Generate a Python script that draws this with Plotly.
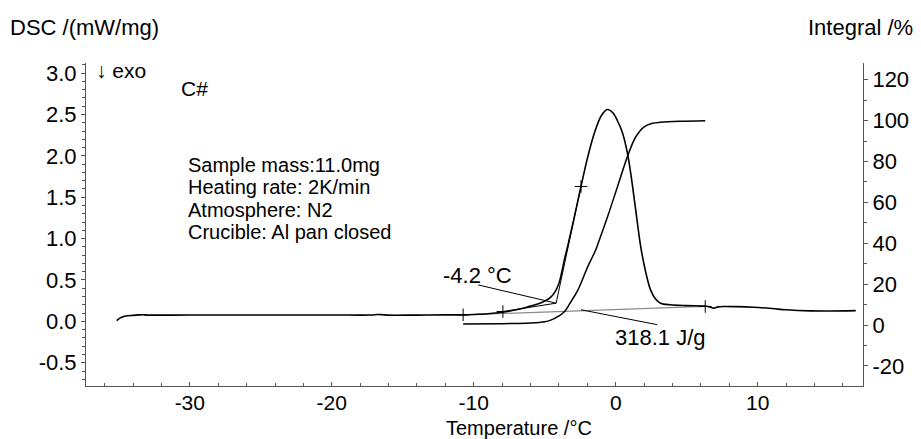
import plotly.graph_objects as go

# ---------------- data ----------------
temp_dsc = [-35.15, -35.0, -34.8, -34.5, -34.0, -33.6, -33.3, -33.0, -30.0, -25.0, -20.0,
            -17.2, -16.8, -16.4, -16.0, -14.0, -12.0, -10.75, -10.0, -9.0, -8.0, -7.0,
            -6.2, -5.5, -5.0, -4.6, -4.3, -4.0, -3.8, -3.6, -3.4, -3.0, -2.45, -2.0,
            -1.5, -1.0, -0.6, -0.2, 0.1, 0.47, 0.8, 1.05, 1.4, 1.75, 2.1, 2.45, 2.8,
            3.15, 3.85, 5.0, 6.2, 6.6, 6.9, 7.2, 7.6, 8.5, 9.7, 11.0, 12.0, 13.7, 15.0, 16.9]
dsc = [0.01, 0.03, 0.05, 0.065, 0.073, 0.078, 0.08, 0.076, 0.077, 0.077, 0.077,
       0.077, 0.083, 0.08, 0.075, 0.076, 0.078, 0.079, 0.083, 0.092, 0.11, 0.14,
       0.175, 0.21, 0.245, 0.29, 0.35, 0.46, 0.6, 0.76, 0.9, 1.2, 1.63, 1.97,
       2.28, 2.49, 2.56, 2.52, 2.43, 2.28, 2.05, 1.79, 1.35, 0.91, 0.6, 0.38, 0.27,
       0.22, 0.2, 0.19, 0.185, 0.175, 0.16, 0.175, 0.18, 0.178, 0.17, 0.155, 0.14, 0.127, 0.125, 0.13]

temp_int = [-10.75, -8.0, -6.0, -5.0, -4.58, -4.0, -3.62, -3.2, -2.68, -1.98, -1.4, -1.16,
            -0.58, 0.12, 0.82, 1.4, 2.0, 2.6, 3.15, 4.5, 6.3]
integral = [0.5, 0.7, 1.0, 1.6, 2.4, 4.5, 6.5, 11, 17, 28.5, 37, 41.6,
            53, 67.7, 82.4, 92, 97, 98.7, 99.2, 99.7, 100]

baseline_temp = [-10.75, 6.3]
baseline_dsc = [0.079, 0.18]
tangent1_temp = [-7.95, -4.2]
tangent1_dsc = [0.119, 0.22]
tangent2_temp = [-4.2, -2.45]
tangent2_dsc = [0.22, 1.63]
mark_temp = [-10.75, -7.95, -2.45, 6.3]
mark_dsc = [0.079, 0.119, 1.63, 0.18]
onset_leader_temp = [-9.69, -4.2]
onset_leader_dsc = [0.44, 0.22]
area_leader_temp = [-2.45, 2.92]
area_leader_dsc = [0.14, -0.04]

x_ticks = [-30, -20, -10, 0, 10]
x_tick_text = ["-30", "-20", "-10", "0", "10"]
y_ticks = [-0.5, 0.0, 0.5, 1.0, 1.5, 2.0, 2.5, 3.0]
y_tick_text = ["-0.5", "0.0", "0.5", "1.0", "1.5", "2.0", "2.5", "3.0"]
y2_ticks = [-20, 0, 20, 40, 60, 80, 100, 120]
y2_tick_text = ["-20", "0", "20", "40", "60", "80", "100", "120"]

info_lines = ["Sample mass:11.0mg", "Heating rate: 2K/min", "Atmosphere: N2", "Crucible: Al pan closed"]

# ---------------- figure ----------------
FONT = "Liberation Sans, Arial, sans-serif"
FS = 22
PAGE_W, PAGE_H = 921, 439
OFF = 8  # default body margin of the html page
L, R, T, B = 86, 867, 63, 386  # plot area in page pixels


def px(x):
    return (x - L) / (R - L)


def py(y):
    return (B - y) / (B - T)


fig = go.Figure()
line_k = dict(color="black", width=1.6)
thin_k = dict(color="black", width=1)

fig.add_trace(go.Scatter(x=baseline_temp, y=baseline_dsc, mode="lines",
                         line=dict(color="#8a8a8a", width=1.2), hoverinfo="skip"))
fig.add_trace(go.Scatter(x=temp_dsc, y=dsc, mode="lines", line=line_k, line_shape="spline"))
fig.add_trace(go.Scatter(x=tangent1_temp, y=tangent1_dsc, mode="lines", line=thin_k))
fig.add_trace(go.Scatter(x=tangent2_temp, y=tangent2_dsc, mode="lines", line=thin_k))
fig.add_trace(go.Scatter(x=onset_leader_temp, y=onset_leader_dsc, mode="lines", line=thin_k))
fig.add_trace(go.Scatter(x=area_leader_temp, y=area_leader_dsc, mode="lines", line=thin_k))
fig.add_trace(go.Scatter(x=mark_temp, y=mark_dsc, mode="markers",
                         marker=dict(symbol="cross-thin", size=9, line=dict(color="black", width=1))))
fig.add_trace(go.Scatter(x=temp_int, y=integral, mode="lines", yaxis="y2",
                         line=dict(color="black", width=1.5), line_shape="spline"))

axis_common = dict(showgrid=False, zeroline=False, showline=True, linecolor="#555555", linewidth=1,
                   tickcolor="#555555")

fig.update_layout(
    width=PAGE_W - OFF, height=PAGE_H - OFF,
    margin=dict(l=L - OFF, r=PAGE_W - R, t=T - OFF, b=PAGE_H - B),
    paper_bgcolor="white", plot_bgcolor="white",
    showlegend=False,
    xaxis=dict(range=[-37.31, 17.41], tickvals=x_ticks, ticktext=x_tick_text, ticks="inside", ticklen=4,
               tickfont=dict(family=FONT, size=21, color="black"), ticklabelstandoff=-2,
               minor=dict(dtick=2, ticks="inside", ticklen=3, tickcolor="#555555"),
               **axis_common),
    yaxis=dict(range=[-0.781, 3.122], tickvals=y_ticks, ticktext=y_tick_text, ticks="outside", ticklen=4,
               tickfont=dict(family=FONT, size=FS, color="black"),
               minor=dict(dtick=0.1, ticks="outside", ticklen=3, tickcolor="#555555"),
               **axis_common),
    yaxis2=dict(range=[-29.8, 128.2], tickvals=y2_ticks, ticktext=y2_tick_text, overlaying="y", side="right",
                ticks="outside", ticklen=4, tickfont=dict(family=FONT, size=FS, color="black"),
                minor=dict(dtick=10, ticks="outside", ticklen=3, tickcolor="#555555"),
                **axis_common),
)

ann = []


def text(s, x, y, xa="left", ya="middle", size=FS):
    ann.append(dict(text=s, x=px(x), y=py(y), xref="paper", yref="paper", xanchor=xa, yanchor=ya,
                    showarrow=False, font=dict(family=FONT, size=size, color="black")))


text("DSC /(mW/mg)", 8, 27)
text("Integral /%", 919, 27, xa="right")
text("↓ exo", 94, 70, size=21)
text("C#", 179, 88, size=21)
for i, s in enumerate(info_lines):
    text(s, 187, 165 + i * 22.4, size=20)
text("-4.2 °C", 480, 275, xa="center")
text("318.1 J/g", 663, 337, xa="center")
text("Temperature /°C", 521, 428, xa="center", size=20)
fig.update_layout(annotations=ann)

fig.write_html("out.html")
